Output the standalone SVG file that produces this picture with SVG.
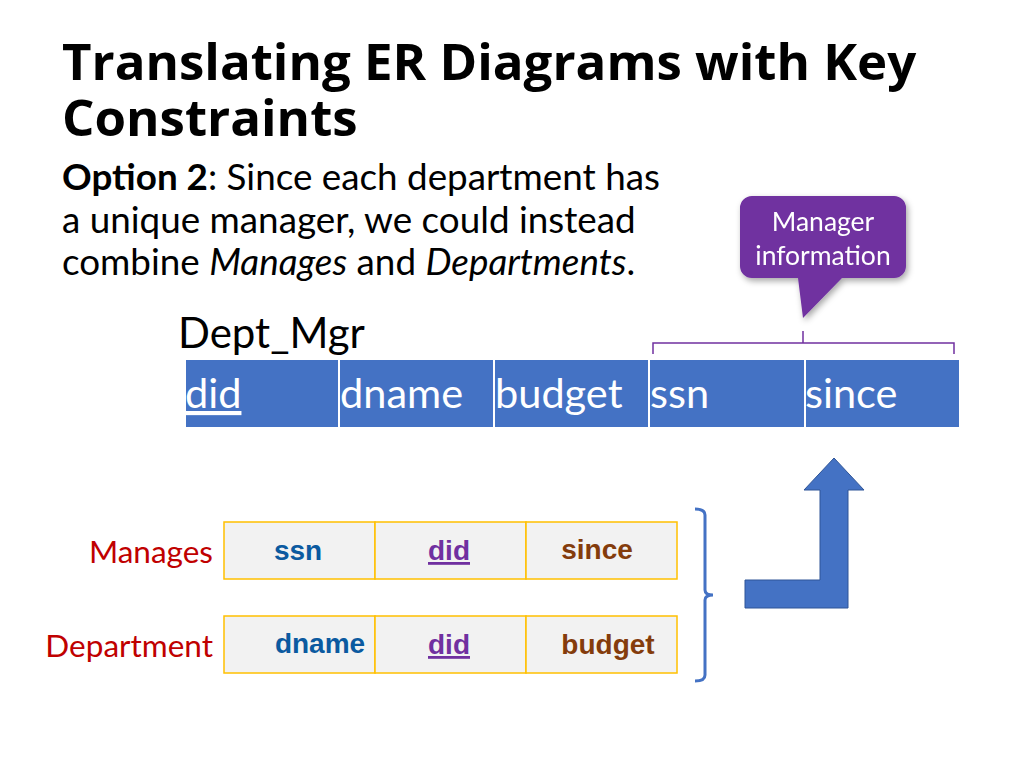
<svg xmlns="http://www.w3.org/2000/svg" width="1024" height="768" viewBox="0 0 1024 768">
<style>
.t{font-family:"Open Sans","DejaVu Sans",sans-serif;font-weight:bold;font-size:51px;fill:#000}
.b{font-family:Lato,"Liberation Sans",sans-serif;font-size:36.8px;fill:#000}
.h{fill:#4472c4;stroke:#fff;stroke-width:2}
.ht{font-family:Lato,"Liberation Sans",sans-serif;font-size:41.5px;fill:#fff}
.c{fill:#f2f2f2;stroke:#ffc000;stroke-width:1.5}
.ct{font-family:"Liberation Sans",Arial,sans-serif;font-weight:bold;font-size:28px;text-anchor:middle}
.lab{font-family:Lato,"Liberation Sans",sans-serif;font-size:31.5px;fill:#c00000;text-anchor:end}
</style>
<defs><filter id="sh"><feDropShadow dx="2" dy="3" stdDeviation="3" flood-opacity="0.35"/></filter></defs>
<rect width="1024" height="768" fill="#fff"/>
<text class="t" x="62" y="80">Translating ER Diagrams with Key</text>
<text class="t" x="62" y="136">Constraints</text>
<text class="b" x="62" y="190"><tspan font-weight="bold">Option 2</tspan>: Since each department has</text>
<text class="b" x="62" y="233">a unique manager, we could instead</text>
<text class="b" x="62" y="275">combine <tspan font-style="italic">Manages</tspan> and <tspan font-style="italic">Departments</tspan>.</text>
<g id="callout" filter="url(#sh)">
<path d="M752,196 H894 a12,12 0 0 1 12,12 V266 a12,12 0 0 1 -12,12 H842 L803,318 L798,278 H752 a12,12 0 0 1 -12,-12 V208 a12,12 0 0 1 12,-12 Z" fill="#7030a0"/>
<text x="823" y="231" font-family="Lato,'Liberation Sans',sans-serif" font-size="26.5" fill="#fff" text-anchor="middle">Manager</text>
<text x="823" y="265" font-family="Lato,'Liberation Sans',sans-serif" font-size="26.5" fill="#fff" text-anchor="middle">information</text>
</g>
<path d="M653,354 V343 H954 V354 M803,343 V331" fill="none" stroke="#7030a0" stroke-width="1.5"/>
<text x="178" y="348" font-family="Lato,'Liberation Sans',sans-serif" font-size="42" fill="#000">Dept_Mgr</text>
<g id="dept_mgr">
<rect class="h" x="185" y="359" width="154" height="69"/>
<rect class="h" x="339" y="359" width="155" height="69"/>
<rect class="h" x="494" y="359" width="155" height="69"/>
<rect class="h" x="649" y="359" width="156" height="69"/>
<rect class="h" x="805" y="359" width="155" height="69"/>
<text class="ht" x="185" y="408" text-decoration="underline">did</text>
<text class="ht" x="340" y="408">dname</text>
<text class="ht" x="495" y="408">budget</text>
<text class="ht" x="650" y="408">ssn</text>
<text class="ht" x="805" y="408">since</text>
</g>
<g id="manages">
<text class="lab" x="213" y="563">Manages</text>
<rect class="c" x="224" y="522" width="151" height="57"/>
<rect class="c" x="375" y="522" width="151" height="57"/>
<rect class="c" x="526" y="522" width="151" height="57"/>
<text class="ct" x="298" y="560" fill="#0b5aa0">ssn</text>
<text class="ct" x="449" y="560" fill="#7030a0" text-decoration="underline">did</text>
<text class="ct" x="597" y="559" fill="#843c0c">since</text>
</g>
<g id="department">
<text class="lab" x="213" y="657">Department</text>
<rect class="c" x="224" y="616" width="151" height="57"/>
<rect class="c" x="375" y="616" width="151" height="57"/>
<rect class="c" x="526" y="616" width="151" height="57"/>
<text class="ct" x="320" y="653" fill="#0b5aa0">dname</text>
<text class="ct" x="449" y="654" fill="#7030a0" text-decoration="underline">did</text>
<text class="ct" x="608" y="654" fill="#843c0c">budget</text>
</g>
<g id="connectors">
<path d="M695,509 Q705,509 705,515 V590 Q705,595 713,595 Q705,595 705,600 V675 Q705,681 695,681" fill="none" stroke="#4472c4" stroke-width="3"/>
<path d="M745,580 H820 V490 H804 L834,458 L864,490 H848 V608 H745 Z" fill="#4472c4" stroke="#2f5597" stroke-width="1"/>
</g>
</svg>
